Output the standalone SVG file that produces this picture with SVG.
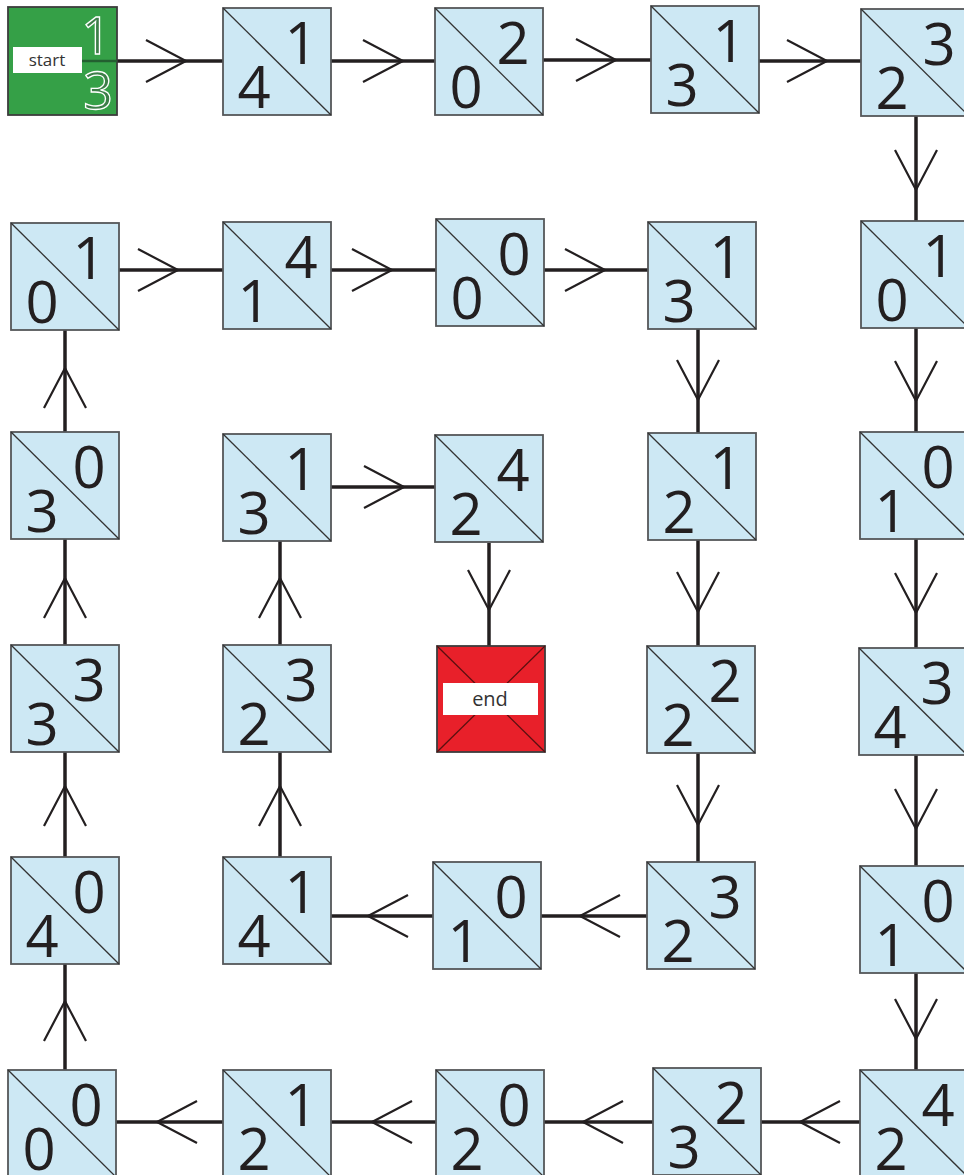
<svg xmlns="http://www.w3.org/2000/svg" width="964" height="1175" viewBox="0 0 964 1175">
<style>
.box{fill:#cde8f4;stroke:#555759;stroke-width:1.8}
.dg{stroke:#333;stroke-width:1.3;fill:none}
.n{font-family:"Open Sans","Liberation Sans",sans-serif;font-size:58px;fill:#231f20;text-anchor:middle}
.c{fill:none;stroke:#231f20;stroke-width:3.5}
.a{fill:none;stroke:#231f20;stroke-width:2.2}
.lbl{font-family:"Open Sans","Liberation Sans",sans-serif;fill:#333;text-anchor:middle}
.sn{font-family:"Open Sans","Liberation Sans",sans-serif;font-size:52px;text-anchor:middle;fill:#3d7f49;stroke:#fff;stroke-width:1.3}
</style>
<defs>
<g id="cell"><rect class="box" x="0" y="0" width="108" height="107"/><line class="dg" x1="0" y1="0" x2="108" y2="107"/></g>
</defs>
<rect width="964" height="1175" fill="#fff"/>
<g id="connectors">
<path class="c" d="M117,61 L223,61"/><path class="a" d="M146,40 L186,61 L146,82"/>
<path class="c" d="M331,61 L435,61"/><path class="a" d="M363,40 L403,61 L363,82"/>
<path class="c" d="M543,60 L651,60"/><path class="a" d="M576,39 L616,60 L576,81"/>
<path class="c" d="M759,61 L861,61"/><path class="a" d="M787,40 L827,61 L787,82"/>
<path class="c" d="M916,116 L916,221"/><path class="a" d="M895,150 L916,190 L937,150"/>
<path class="c" d="M916,328 L916,432"/><path class="a" d="M895,361 L916,401 L937,361"/>
<path class="c" d="M916,539 L916,648"/><path class="a" d="M895,573 L916,613 L937,573"/>
<path class="c" d="M916,755 L916,866"/><path class="a" d="M895,789 L916,829 L937,789"/>
<path class="c" d="M916,973 L916,1070"/><path class="a" d="M895,999 L916,1039 L937,999"/>
<path class="c" d="M860,1122 L761,1122"/><path class="a" d="M840,1101 L800,1122 L840,1143"/>
<path class="c" d="M653,1122 L544,1122"/><path class="a" d="M623,1101 L583,1122 L623,1143"/>
<path class="c" d="M436,1122 L331,1122"/><path class="a" d="M412,1101 L372,1122 L412,1143"/>
<path class="c" d="M223,1122 L116,1122"/><path class="a" d="M197,1101 L157,1122 L197,1143"/>
<path class="c" d="M65,1070 L65,964"/><path class="a" d="M44,1041 L65,1001 L86,1041"/>
<path class="c" d="M65,857 L65,752"/><path class="a" d="M44,826 L65,786 L86,826"/>
<path class="c" d="M65,645 L65,539"/><path class="a" d="M44,618 L65,578 L86,618"/>
<path class="c" d="M65,432 L65,330"/><path class="a" d="M44,408 L65,368 L86,408"/>
<path class="c" d="M119,270 L223,270"/><path class="a" d="M138,249 L178,270 L138,291"/>
<path class="c" d="M331,270 L436,270"/><path class="a" d="M352,249 L392,270 L352,291"/>
<path class="c" d="M543,270 L648,270"/><path class="a" d="M565,249 L605,270 L565,291"/>
<path class="c" d="M698,329 L698,433"/><path class="a" d="M677,360 L698,400 L719,360"/>
<path class="c" d="M698,540 L698,646"/><path class="a" d="M677,572 L698,612 L719,572"/>
<path class="c" d="M698,753 L698,862"/><path class="a" d="M677,785 L698,825 L719,785"/>
<path class="c" d="M647,916 L540,916"/><path class="a" d="M620,895 L580,916 L620,937"/>
<path class="c" d="M433,916 L331,916"/><path class="a" d="M408,895 L368,916 L408,937"/>
<path class="c" d="M280,857 L280,752"/><path class="a" d="M259,826 L280,786 L301,826"/>
<path class="c" d="M280,645 L280,541"/><path class="a" d="M259,618 L280,578 L301,618"/>
<path class="c" d="M331,487 L435,487"/><path class="a" d="M364,466 L404,487 L364,508"/>
<path class="c" d="M489,543 L489,646"/><path class="a" d="M468,570 L489,610 L510,570"/>
</g>
<g id="start">
<rect x="8" y="7" width="109" height="108" fill="#35a047" stroke="#3c3c3c" stroke-width="1.8"/>
<line x1="82" y1="61" x2="117" y2="61" stroke="#235f30" stroke-width="2.5"/>
<rect x="13" y="47" width="69" height="26" fill="#fff"/>
<text class="lbl" x="47" y="66" font-size="17">start</text>
<text class="sn" x="96" y="54">1</text>
<text class="sn" x="98" y="109">3</text>
</g>
<g id="n_a1" transform="translate(223,8)"><use href="#cell"/><text class="n" x="31" y="100">4</text><text class="n" x="78" y="56">1</text></g>
<g id="n_a2" transform="translate(435,8)"><use href="#cell"/><text class="n" x="31" y="100">0</text><text class="n" x="78" y="56">2</text></g>
<g id="n_a3" transform="translate(651,6)"><use href="#cell"/><text class="n" x="31" y="100">3</text><text class="n" x="78" y="56">1</text></g>
<g id="n_a4" transform="translate(861,9)"><use href="#cell"/><text class="n" x="31" y="100">2</text><text class="n" x="78" y="56">3</text></g>
<g id="n_b0" transform="translate(11,223)"><use href="#cell"/><text class="n" x="31" y="100">0</text><text class="n" x="78" y="56">1</text></g>
<g id="n_b1" transform="translate(223,222)"><use href="#cell"/><text class="n" x="31" y="100">1</text><text class="n" x="78" y="56">4</text></g>
<g id="n_b2" transform="translate(436,219)"><use href="#cell"/><text class="n" x="31" y="100">0</text><text class="n" x="78" y="56">0</text></g>
<g id="n_b3" transform="translate(648,222)"><use href="#cell"/><text class="n" x="31" y="100">3</text><text class="n" x="78" y="56">1</text></g>
<g id="n_b4" transform="translate(861,221)"><use href="#cell"/><text class="n" x="31" y="100">0</text><text class="n" x="78" y="56">1</text></g>
<g id="n_c0" transform="translate(11,432)"><use href="#cell"/><text class="n" x="31" y="100">3</text><text class="n" x="78" y="56">0</text></g>
<g id="n_c1" transform="translate(223,434)"><use href="#cell"/><text class="n" x="31" y="100">3</text><text class="n" x="78" y="56">1</text></g>
<g id="n_c2" transform="translate(435,435)"><use href="#cell"/><text class="n" x="31" y="100">2</text><text class="n" x="78" y="56">4</text></g>
<g id="n_c3" transform="translate(648,433)"><use href="#cell"/><text class="n" x="31" y="100">2</text><text class="n" x="78" y="56">1</text></g>
<g id="n_c4" transform="translate(860,432)"><use href="#cell"/><text class="n" x="31" y="100">1</text><text class="n" x="78" y="56">0</text></g>
<g id="n_d0" transform="translate(11,645)"><use href="#cell"/><text class="n" x="31" y="100">3</text><text class="n" x="78" y="56">3</text></g>
<g id="n_d1" transform="translate(223,645)"><use href="#cell"/><text class="n" x="31" y="100">2</text><text class="n" x="78" y="56">3</text></g>
<g id="end">
<rect x="437" y="646" width="108" height="106" fill="#e8202a" stroke="#3c3c3c" stroke-width="1.8"/>
<line x1="437" y1="646" x2="545" y2="752" stroke="#5a1010" stroke-width="1.3"/>
<line x1="545" y1="646" x2="437" y2="752" stroke="#5a1010" stroke-width="1.3"/>
<rect x="443" y="683" width="95" height="32" fill="#fff"/>
<text class="lbl" x="490" y="706" font-size="20">end</text>
</g>
<g id="n_d3" transform="translate(647,646)"><use href="#cell"/><text class="n" x="31" y="100">2</text><text class="n" x="78" y="56">2</text></g>
<g id="n_d4" transform="translate(859,648)"><use href="#cell"/><text class="n" x="31" y="100">4</text><text class="n" x="78" y="56">3</text></g>
<g id="n_e0" transform="translate(11,857)"><use href="#cell"/><text class="n" x="31" y="100">4</text><text class="n" x="78" y="56">0</text></g>
<g id="n_e1" transform="translate(223,857)"><use href="#cell"/><text class="n" x="31" y="100">4</text><text class="n" x="78" y="56">1</text></g>
<g id="n_e2" transform="translate(433,862)"><use href="#cell"/><text class="n" x="31" y="100">1</text><text class="n" x="78" y="56">0</text></g>
<g id="n_e3" transform="translate(647,862)"><use href="#cell"/><text class="n" x="31" y="100">2</text><text class="n" x="78" y="56">3</text></g>
<g id="n_e4" transform="translate(860,866)"><use href="#cell"/><text class="n" x="31" y="100">1</text><text class="n" x="78" y="56">0</text></g>
<g id="n_f0" transform="translate(8,1070)"><use href="#cell"/><text class="n" x="31" y="100">0</text><text class="n" x="78" y="56">0</text></g>
<g id="n_f1" transform="translate(223,1070)"><use href="#cell"/><text class="n" x="31" y="100">2</text><text class="n" x="78" y="56">1</text></g>
<g id="n_f2" transform="translate(436,1070)"><use href="#cell"/><text class="n" x="31" y="100">2</text><text class="n" x="78" y="56">0</text></g>
<g id="n_f3" transform="translate(653,1068)"><use href="#cell"/><text class="n" x="31" y="100">3</text><text class="n" x="78" y="56">2</text></g>
<g id="n_f4" transform="translate(860,1070)"><use href="#cell"/><text class="n" x="31" y="100">2</text><text class="n" x="78" y="56">4</text></g>
</svg>
